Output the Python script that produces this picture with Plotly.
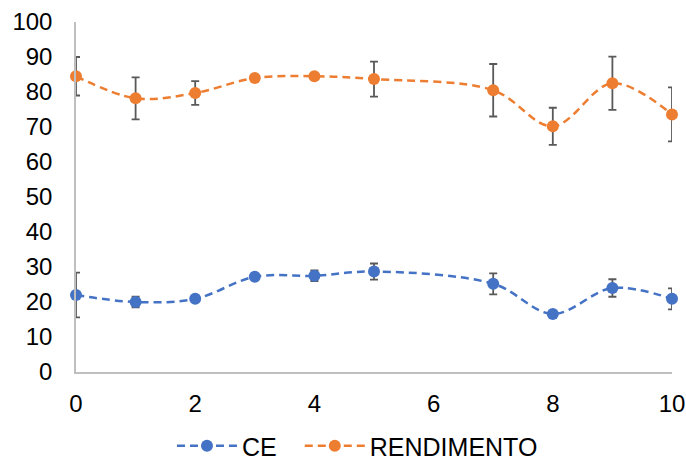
import plotly.graph_objects as go

x_vals = [0, 1, 2, 3, 4, 5, 7, 8, 9, 10]
ce = [22.0, 20.0, 20.9, 27.2, 27.5, 28.7, 25.2, 16.6, 24.0, 20.9]
ce_err = [6.4, 1.5, 0.5, 0.5, 1.5, 2.3, 3.0, 0.5, 2.5, 3.0]
rend = [84.5, 78.2, 79.7, 84.0, 84.5, 83.7, 80.5, 70.2, 82.5, 73.6]
rend_err = [5.5, 6.0, 3.4, 0.5, 0.5, 5.0, 7.5, 5.3, 7.6, 7.7]

BLUE = "#4472C4"
ORANGE = "#ED7D31"
ERR = "#595959"
FONT = "Liberation Sans, Arial, sans-serif"

fig = go.Figure()
for name, ys, errs, col, leg in [("CE", ce, ce_err, BLUE, "legend"),
                                 ("RENDIMENTO", rend, rend_err, ORANGE, "legend2")]:
    fig.add_trace(go.Scatter(
        x=x_vals, y=ys, name=name, mode="lines+markers", legend=leg,
        line=dict(color=col, width=2.5, dash="8px,5px", shape="spline", smoothing=1.0),
        marker=dict(color=col, size=12),
        error_y=dict(type="data", array=errs, visible=True, color=ERR, thickness=1.8, width=4),
        cliponaxis=False,
    ))

leg_common = dict(orientation="h", xref="container", yref="container",
                  xanchor="left", y=0.0325, yanchor="middle",
                  font=dict(size=25), itemwidth=60, bgcolor="rgba(0,0,0,0)")

fig.update_layout(
    width=686, height=461,
    margin=dict(l=76, r=14, t=22, b=89),
    paper_bgcolor="white", plot_bgcolor="white",
    font=dict(family=FONT, size=24, color="#000000"),
    showlegend=True,
    legend=dict(x=0.2507, **leg_common),
    legend2=dict(x=0.437, **leg_common),
    xaxis=dict(range=[0, 10], tickvals=[0, 2, 4, 6, 8, 10], showgrid=False, zeroline=False,
               showline=True, linecolor="#BFBFBF", linewidth=1.5, ticks="", automargin=False,
               ticklabelstandoff=9),
    yaxis=dict(range=[0, 100], dtick=10, showgrid=False, zeroline=False,
               showline=True, linecolor="#BFBFBF", linewidth=1.5, ticks="", automargin=False,
               ticklabelstandoff=17),
)

fig.write_html("out.html", config={"displayModeBar": False},
               post_script="document.body.style.margin='0';document.body.style.overflow='hidden';")
